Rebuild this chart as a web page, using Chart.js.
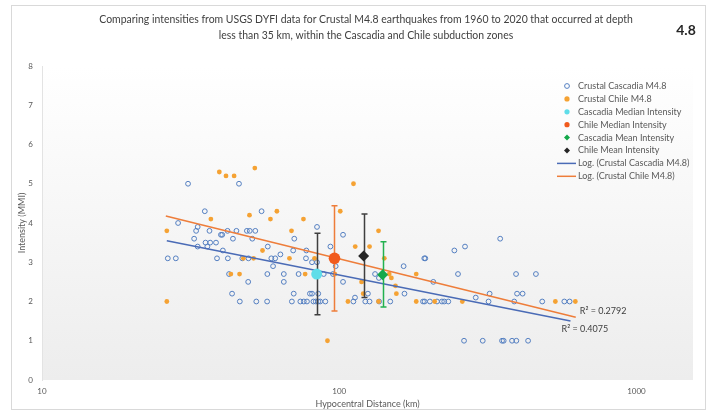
<!DOCTYPE html>
<html>
<head>
<meta charset="utf-8">
<script src="https://cdn.jsdelivr.net/npm/chart.js@4.4.1/dist/chart.umd.min.js"></script>
<style>
  html, body { margin: 0; padding: 0; background: #fff; }
  #wrap { width: 715px; height: 414px; position: relative; }
</style>
</head>
<body>
<div id="wrap"><canvas id="dyfi_chart" width="715" height="414"></canvas></div>
<script>
// hypocentral distance (km), intensity (MMI)
const cascadiaPoints = [
  [31, 5.0], [46, 5.0], [35.3, 4.3], [54.8, 4.3], [28.7, 4.0], [33.4, 3.9], [33, 3.8], [36.6, 3.8],
  [40, 3.7], [40.4, 3.7], [42.1, 3.8], [45.1, 3.8], [48.9, 3.8], [50, 3.8], [52.2, 3.8], [32.5, 3.6],
  [35.5, 3.5], [36.8, 3.5], [38.5, 3.5], [33.4, 3.4], [36, 3.4], [43.9, 3.6], [51, 3.6], [40.6, 3.3],
  [26.5, 3.1], [28.2, 3.1], [38.8, 3.1], [42.2, 3.1], [47.2, 3.1], [49.5, 3.1], [42.6, 2.7], [49.4, 2.5],
  [43.6, 2.2], [46.3, 2.0], [52.6, 2.0],
  [57.5, 3.4], [59.1, 3.1], [60.9, 3.1], [63.4, 3.2], [59.9, 2.9], [57.3, 2.7], [65.1, 2.7], [73, 2.7],
  [65.1, 2.5], [70.6, 3.6], [70, 3.3], [77.5, 3.3], [77.3, 3.1], [81, 3.0], [84.2, 3.9], [84.2, 3.0],
  [103, 3.7], [93.4, 3.4], [97.3, 2.9], [103, 2.5], [88.7, 2.7], [95.3, 2.7], [70.3, 2.2], [79.7, 2.2],
  [81, 2.2], [85, 2.2], [57.2, 2.0], [69.3, 2.0], [74, 2.0], [76, 2.0], [77.9, 2.0], [81.9, 2.0],
  [83.4, 2.0], [85, 2.0], [86.3, 2.0], [89.8, 2.0], [113, 2.1], [111.6, 2.0], [122.4, 2.0], [126.5, 2.0],
  [124.9, 2.2], [132, 2.7], [136, 2.6],
  [136.2, 2.0], [148.5, 2.0], [164.7, 2.9], [165.8, 2.2], [193.3, 3.1], [194.8, 3.1], [207.3, 2.5],
  [244, 3.3], [265, 3.4], [251, 2.7], [288, 2.1], [191.4, 2.0], [193.9, 2.0], [201.9, 2.0], [213.3, 2.0],
  [221.6, 2.0], [225.6, 2.0], [232.8, 2.0], [263, 1.0], [304, 1.0], [348, 3.6], [393.5, 2.7], [459, 2.7],
  [320.7, 2.2], [396.6, 2.2], [414, 2.2], [318, 2.0], [388, 2.0], [482, 2.0], [572, 2.0], [596, 2.0],
  [353, 1.0], [357.5, 1.0], [381.5, 1.0], [394.4, 1.0], [432, 1.0]
];

const chilePoints = [
  [39.5, 5.3], [41.6, 5.2], [44.3, 5.2], [52, 5.4], [37, 4.1], [49.9, 4.2], [26.3, 3.8], [55.2, 3.3],
  [47.6, 3.1], [51.5, 3.1], [43.2, 2.7], [46.2, 2.7], [26.3, 2.0],
  [111.7, 5.0], [61.7, 4.3], [58.7, 4.1], [75.8, 4.1], [100.8, 4.3], [69.1, 3.8], [68, 3.1], [82.6, 3.1],
  [76.8, 2.7], [113.2, 3.4], [126.5, 3.4], [96.7, 2.7], [118.9, 2.5], [120.4, 2.2], [107, 2.0], [91.3, 1.0],
  [135.6, 3.8], [141.8, 3.1], [147.3, 2.7], [149.8, 2.6], [154.6, 2.4], [155.7, 2.2], [181.6, 2.7],
  [135.6, 2.0], [181.6, 2.0], [209.4, 2.0], [259.5, 2.0], [533.6, 2.0], [623, 2.0]
];

// median / mean markers with their error ranges
const summaryNames = ['Cascadia Median Intensity', 'Chile Median Intensity', 'Cascadia Mean Intensity', 'Chile Mean Intensity'];
const summaryDist  = [84, 96.4, 140, 120.8];
const summaryValue = [2.7, 3.1, 2.68, 3.16];
const summaryLow   = [1.66, 1.76, 1.86, 2.10];
const summaryHigh  = [3.74, 4.44, 3.52, 4.23];

// logarithmic trend lines (end points)
const trendCascadia = [[26.3, 3.55], [600, 1.505]];
const trendChile    = [[26.1, 4.18], [625, 1.60]];
const rSquared = ['R² = 0.4075', 'R² = 0.2792'];

const xTicks = [10, 100, 1000];
const yTicks = [0, 1, 2, 3, 4, 5, 6, 7, 8];

const titleLines = [
  'Comparing intensities from USGS DYFI data for Crustal M4.8 earthquakes from 1960 to 2020 that occurred at depth',
  'less than 35 km, within the Cascadia and Chile subduction zones'
];

const FONT = 'Lato, "Open Sans", sans-serif';
const TEXT = '#595959';

const colors = {
  cascadia: '#5580C2',
  chile: '#F5A233',
  cascMedian: '#5FDDE9',
  chileMedian: '#F15A1C',
  cascMean: '#14A84A',
  chileMean: '#262626',
  trendCasc: '#4A6BB6',
  trendChile: '#EE7D3A'
};
const barColors = ['#3F3F3F', '#EE7D3A', '#22B14F', '#3F3F3F'];

function toXY(list) {
  return list.map(p => ({ x: p[0], y: p[1] }));
}

const background = {
  id: 'background',
  beforeDraw(chart) {
    const { ctx, chartArea: a } = chart;
    ctx.save();
    ctx.fillStyle = '#fff';
    ctx.fillRect(0, 0, chart.width, chart.height);
    ctx.strokeStyle = '#D9D9D9';
    ctx.lineWidth = 1;
    ctx.strokeRect(11.5, 5.5, 694, 404);
    const g = ctx.createLinearGradient(0, a.top, 0, a.bottom);
    g.addColorStop(0, '#FFFFFF');
    g.addColorStop(1, '#EDEDED');
    ctx.fillStyle = g;
    ctx.fillRect(a.left, a.top, a.right - a.left, a.bottom - a.top);
    ctx.restore();
  }
};

// vertical error bars under each summary marker
const errorBars = {
  id: 'errorBars',
  beforeDatasetDraw(chart, args) {
    const k = args.index - 4;
    if (k < 0 || k > 3) return;
    const { ctx, scales } = chart;
    const x = Math.round(scales.x.getPixelForValue(summaryDist[k])) + 0.5;
    const y1 = scales.y.getPixelForValue(summaryHigh[k]);
    const y2 = scales.y.getPixelForValue(summaryLow[k]);
    ctx.save();
    ctx.strokeStyle = barColors[k];
    ctx.lineWidth = 1.5;
    ctx.beginPath();
    ctx.moveTo(x, y1); ctx.lineTo(x, y2);
    ctx.moveTo(x - 3, y1); ctx.lineTo(x + 3, y1);
    ctx.moveTo(x - 3, y2); ctx.lineTo(x + 3, y2);
    ctx.stroke();
    ctx.restore();
  }
};

function drawMarker(ctx, kind, x, y) {
  ctx.save();
  if (kind === 'ring') {
    ctx.strokeStyle = colors.cascadia; ctx.lineWidth = 1;
    ctx.beginPath(); ctx.arc(x, y, 2.4, 0, Math.PI * 2); ctx.stroke();
  } else if (kind.startsWith('dot')) {
    ctx.fillStyle = colors[kind.slice(4)];
    ctx.beginPath(); ctx.arc(x, y, 2.6, 0, Math.PI * 2); ctx.fill();
  } else if (kind.startsWith('diamond')) {
    ctx.fillStyle = colors[kind.slice(8)];
    ctx.beginPath();
    ctx.moveTo(x, y - 3); ctx.lineTo(x + 3, y); ctx.lineTo(x, y + 3); ctx.lineTo(x - 3, y);
    ctx.closePath(); ctx.fill();
  } else if (kind.startsWith('line')) {
    ctx.strokeStyle = colors[kind.slice(5)]; ctx.lineWidth = 1.5;
    ctx.beginPath(); ctx.moveTo(x - 10, y); ctx.lineTo(x + 9, y); ctx.stroke();
  }
  ctx.restore();
}

const legendItems = [
  ['ring', 'Crustal Cascadia M4.8'],
  ['dot-chile', 'Crustal Chile M4.8'],
  ['dot-cascMedian', summaryNames[0]],
  ['dot-chileMedian', summaryNames[1]],
  ['diamond-cascMean', summaryNames[2]],
  ['diamond-chileMean', summaryNames[3]],
  ['line-trendCasc', 'Log. (Crustal Cascadia M4.8)'],
  ['line-trendChile', 'Log. (Crustal Chile M4.8)']
];

// centred text squeezed a little horizontally (narrow title face)
function narrowText(ctx, str, cx, cy, squeeze) {
  ctx.save();
  ctx.translate(cx, cy);
  ctx.scale(squeeze, 1);
  ctx.fillText(str, 0, 0);
  ctx.restore();
}

const texts = {
  id: 'texts',
  afterDraw(chart) {
    const { ctx, chartArea: a, scales } = chart;
    ctx.save();
    // title
    ctx.fillStyle = '#404040';
    ctx.font = '12px ' + FONT;
    ctx.textAlign = 'center';
    ctx.textBaseline = 'middle';
    narrowText(ctx, titleLines[0], 366, 19, 0.87);
    narrowText(ctx, titleLines[1], 366, 35, 0.87);
    ctx.font = 'bold 14px ' + FONT;
    ctx.fillStyle = '#262626';
    ctx.fillText('4.8', 686, 30);

    // axis titles
    ctx.fillStyle = TEXT;
    ctx.font = '9px ' + FONT;
    ctx.fillText('Hypocentral Distance (km)', (a.left + a.right) / 2, 404);
    ctx.save();
    ctx.translate(22, (a.top + a.bottom) / 2);
    ctx.rotate(-Math.PI / 2);
    ctx.fillText('Intensity (MMI)', 0, 0);
    ctx.restore();

    // legend
    ctx.textAlign = 'left';
    ctx.font = '9px ' + FONT;
    legendItems.forEach((item, i) => {
      const y = 86 + i * 12.9;
      drawMarker(ctx, item[0], 567, y);
      ctx.fillStyle = TEXT;
      ctx.fillText(item[1], 578, y);
    });

    // R squared labels beside the trend line ends
    ctx.fillStyle = '#404040';
    ctx.font = '9px ' + FONT;
    const bEnd = trendCascadia[1], oEnd = trendChile[1];
    ctx.fillText(rSquared[0], scales.x.getPixelForValue(bEnd[0]) - 9, scales.y.getPixelForValue(bEnd[1]) + 8);
    ctx.fillText(rSquared[1], scales.x.getPixelForValue(oEnd[0]) + 4, scales.y.getPixelForValue(oEnd[1]) - 6);
    ctx.restore();
  }
};

const ctx = document.getElementById('dyfi_chart').getContext('2d');
const chart = new Chart(ctx, {
  type: 'scatter',
  data: {
    datasets: [
      { label: 'Crustal Cascadia M4.8', data: toXY(cascadiaPoints), order: 10,
        pointRadius: 2.4, pointBorderWidth: 1, borderColor: colors.cascadia,
        backgroundColor: 'rgba(0,0,0,0)' },
      { label: 'Crustal Chile M4.8', data: toXY(chilePoints), order: 9,
        pointRadius: 2.4, pointBorderWidth: 0, backgroundColor: colors.chile, borderColor: colors.chile },
      { label: 'Log. (Crustal Cascadia M4.8)', data: toXY(trendCascadia), order: 8, showLine: true,
        pointRadius: 0, borderWidth: 1.5, borderColor: colors.trendCasc },
      { label: 'Log. (Crustal Chile M4.8)', data: toXY(trendChile), order: 7, showLine: true,
        pointRadius: 0, borderWidth: 1.5, borderColor: colors.trendChile },
      { label: summaryNames[0], data: [{ x: summaryDist[0], y: summaryValue[0] }], order: 6,
        pointRadius: 5.5, pointBorderWidth: 0, backgroundColor: colors.cascMedian },
      { label: summaryNames[1], data: [{ x: summaryDist[1], y: summaryValue[1] }], order: 5,
        pointRadius: 5.8, pointBorderWidth: 0, backgroundColor: colors.chileMedian },
      { label: summaryNames[2], data: [{ x: summaryDist[2], y: summaryValue[2] }], order: 4,
        pointStyle: 'rectRot', pointRadius: 5.5, pointBorderWidth: 0, backgroundColor: colors.cascMean },
      { label: summaryNames[3], data: [{ x: summaryDist[3], y: summaryValue[3] }], order: 3,
        pointStyle: 'rectRot', pointRadius: 5.5, pointBorderWidth: 0, backgroundColor: colors.chileMean }
    ]
  },
  options: {
    responsive: false,
    animation: false,
    layout: { padding: { left: 0, right: 22, top: 66, bottom: 0 } },
    plugins: {
      legend: { display: false },
      title: { display: false },
      tooltip: { enabled: false }
    },
    scales: {
      x: {
        type: 'logarithmic',
        min: 10,
        max: 1550,
        afterBuildTicks: scale => { scale.ticks = xTicks.map(v => ({ value: v })); },
        afterFit: scale => { scale.height = 34; },
        grid: { color: 'rgba(0,0,0,0)', drawTicks: false },
        border: { display: false },
        ticks: {
          autoSkip: false, maxRotation: 0, padding: 7,
          color: TEXT, font: { family: FONT, size: 8 },
          callback: v => String(v)
        }
      },
      y: {
        min: 0,
        max: 8,
        afterBuildTicks: scale => { scale.ticks = yTicks.map(v => ({ value: v })); },
        afterFit: scale => { scale.width = 42; },
        grid: { color: 'rgba(0,0,0,0)', drawTicks: false },
        border: { display: true, color: '#E3E3E3' },
        ticks: { padding: 9, color: TEXT, font: { family: FONT, size: 8 } }
      }
    }
  },
  plugins: [background, errorBars, texts]
});
</script>
</body>
</html>
